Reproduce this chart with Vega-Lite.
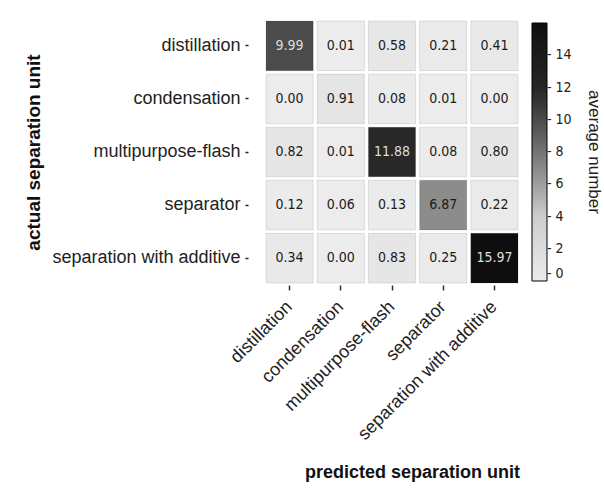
{
  "$schema": "https://vega.github.io/schema/vega-lite/v6.json",
  "width": 252,
  "height": 262,
  "autosize": {"type": "none"},
  "padding": {"left": 266, "top": 21, "right": 86, "bottom": 207},
  "background": "white",
  "config": {"view": {"stroke": null}},
  "data": {
    "values": [
      {"actual": "distillation", "predicted": "distillation", "value": 9.99},
      {"actual": "distillation", "predicted": "condensation", "value": 0.01},
      {"actual": "distillation", "predicted": "multipurpose-flash", "value": 0.58},
      {"actual": "distillation", "predicted": "separator", "value": 0.21},
      {"actual": "distillation", "predicted": "separation with additive", "value": 0.41},
      {"actual": "condensation", "predicted": "distillation", "value": 0.00},
      {"actual": "condensation", "predicted": "condensation", "value": 0.91},
      {"actual": "condensation", "predicted": "multipurpose-flash", "value": 0.08},
      {"actual": "condensation", "predicted": "separator", "value": 0.01},
      {"actual": "condensation", "predicted": "separation with additive", "value": 0.00},
      {"actual": "multipurpose-flash", "predicted": "distillation", "value": 0.82},
      {"actual": "multipurpose-flash", "predicted": "condensation", "value": 0.01},
      {"actual": "multipurpose-flash", "predicted": "multipurpose-flash", "value": 11.88},
      {"actual": "multipurpose-flash", "predicted": "separator", "value": 0.08},
      {"actual": "multipurpose-flash", "predicted": "separation with additive", "value": 0.80},
      {"actual": "separator", "predicted": "distillation", "value": 0.12},
      {"actual": "separator", "predicted": "condensation", "value": 0.06},
      {"actual": "separator", "predicted": "multipurpose-flash", "value": 0.13},
      {"actual": "separator", "predicted": "separator", "value": 6.87},
      {"actual": "separator", "predicted": "separation with additive", "value": 0.22},
      {"actual": "separation with additive", "predicted": "distillation", "value": 0.34},
      {"actual": "separation with additive", "predicted": "condensation", "value": 0.00},
      {"actual": "separation with additive", "predicted": "multipurpose-flash", "value": 0.83},
      {"actual": "separation with additive", "predicted": "separator", "value": 0.25},
      {"actual": "separation with additive", "predicted": "separation with additive", "value": 15.97}
    ]
  },
  "encoding": {
    "x": {
      "field": "predicted",
      "type": "nominal",
      "sort": ["distillation", "condensation", "multipurpose-flash", "separator", "separation with additive"],
      "scale": {"paddingInner": 0.078, "paddingOuter": 0},
      "axis": {
        "title": "predicted separation unit",
        "titleFont": "Liberation Sans",
        "titleFontSize": 18,
        "titleFontWeight": "bold",
        "titleColor": "#111",
        "titleX": 146,
        "titleY": 187,
        "titleBaseline": "middle",
        "titleAnchor": "middle",
        "domain": false,
        "offset": 2,
        "tickSize": 5,
        "tickWidth": 1.5,
        "tickColor": "#333",
        "labelAngle": -45,
        "labelAlign": "right",
        "labelBaseline": "middle",
        "labelPadding": 14,
        "labelLimit": 0,
        "labelFont": "Liberation Sans",
        "labelFontSize": 18,
        "labelColor": "#222"
      }
    },
    "y": {
      "field": "actual",
      "type": "nominal",
      "sort": ["distillation", "condensation", "multipurpose-flash", "separator", "separation with additive"],
      "scale": {"paddingInner": 0.065, "paddingOuter": 0},
      "axis": {
        "title": "actual separation unit",
        "titleFont": "Liberation Sans",
        "titleFontSize": 19,
        "titleFontWeight": "bold",
        "titleColor": "#111",
        "titlePadding": 8,
        "domain": false,
        "offset": 18,
        "tickSize": 3,
        "tickWidth": 1.5,
        "tickColor": "#222",
        "labelPadding": 5,
        "labelLimit": 0,
        "labelFont": "Liberation Sans",
        "labelFontSize": 18,
        "labelColor": "#222"
      }
    }
  },
  "layer": [
    {
      "mark": {"type": "rect", "stroke": "#000", "strokeOpacity": 0.1, "strokeWidth": 1},
      "encoding": {
        "color": {
          "field": "value",
          "type": "quantitative",
          "scale": {"domain": [0, 16], "range": ["#ececec", "#cdcdcd", "#747474", "#262626", "#0e0e0e"]},
          "legend": {
            "title": "average number",
            "orient": "none",
            "legendX": 266,
            "legendY": 2,
            "direction": "vertical",
            "padding": 0,
            "gradientLength": 258,
            "gradientThickness": 15,
            "gradientStrokeColor": "#000",
            "gradientStrokeWidth": 1,
            "values": [0, 2, 4, 6, 8, 10, 12, 14],
            "labelExpr": "'- ' + datum.label",
            "labelFont": "DejaVu Sans Condensed",
            "labelFontSize": 14,
            "labelColor": "#222",
            "labelOffset": 0,
            "labelOverlap": false,
            "titleOrient": "right",
            "titleAngle": 90,
            "titleAnchor": "middle",
            "titleFont": "Liberation Sans",
            "titleFontSize": 17,
            "titleFontWeight": "normal",
            "titleColor": "#222",
            "titlePadding": 13
          }
        }
      }
    },
    {
      "mark": {"type": "text", "font": "DejaVu Sans Condensed", "fontSize": 14},
      "encoding": {
        "text": {"field": "value", "type": "quantitative", "format": ".2f"},
        "color": {
          "condition": {"test": "datum.value > 8", "value": "#dddddd"},
          "value": "#1a1a1a"
        }
      }
    }
  ]
}
